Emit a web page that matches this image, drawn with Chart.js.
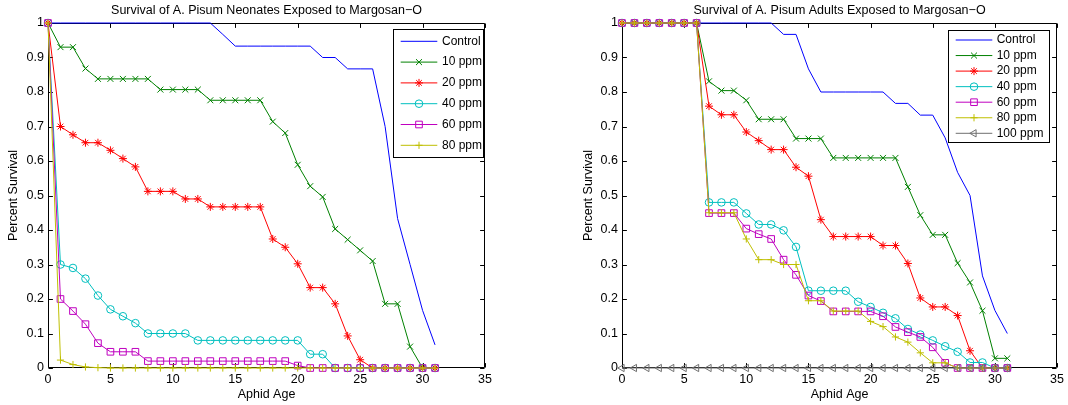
<!DOCTYPE html>
<html><head><meta charset="utf-8">
<script src="https://cdn.jsdelivr.net/npm/chart.js@4.4.0/dist/chart.umd.min.js"></script>
<style>
html,body{margin:0;padding:0;background:#fff;width:1068px;height:405px;overflow:hidden}
canvas{position:absolute;top:0}
#c1{left:0}
#c2{left:534px}
</style></head><body>
<canvas id="c1" width="534" height="405"></canvas>
<canvas id="c2" width="534" height="405"></canvas>
<script>
// ---------- data ----------
const ages = [0,1,2,3,4,5,6,7,8,9,10,11,12,13,14,15,16,17,18,19,20,21,22,23,24,25,26,27,28,29,30,31];

const xTickValues = [0,5,10,15,20,25,30,35];
const xTickLabels = ['0','5','10','15','20','25','30','35'];
const yTickValues = [0,0.1,0.2,0.3,0.4,0.5,0.6,0.7,0.8,0.9,1];
const yTickLabels = ['0','0.1','0.2','0.3','0.4','0.5','0.6','0.7','0.8','0.9','1'];

const titleNeonates = 'Survival of A. Pisum Neonates Exposed to Margosan\u2212O';
const titleAdults = 'Survival of A. Pisum Adults Exposed to Margosan\u2212O';
const xTitle = 'Aphid Age';
const yTitle = 'Percent Survival';

const seriesNames = ['Control','10 ppm','20 ppm','40 ppm','60 ppm','80 ppm','100 ppm'];

// Neonates
const nControl = [1,1,1,1,1,1,1,1,1,1,1,1,1,1,0.967,0.933,0.933,0.933,0.933,0.933,0.933,0.933,0.9,0.9,0.867,0.867,0.867,0.7,0.433,0.3,0.167,0.067];
const n10 = [1,0.93,0.93,0.868,0.838,0.838,0.838,0.838,0.838,0.807,0.807,0.807,0.807,0.776,0.776,0.776,0.776,0.776,0.714,0.681,0.589,0.527,0.496,0.403,0.372,0.341,0.31,0.186,0.186,0.062,0,0];
const n20 = [1,0.70,0.676,0.653,0.653,0.631,0.607,0.583,0.512,0.512,0.512,0.49,0.49,0.467,0.467,0.467,0.467,0.467,0.374,0.35,0.302,0.233,0.233,0.186,0.093,0.024,0,0,0,0,0,0];
const n40 = [1,0.30,0.29,0.259,0.21,0.17,0.15,0.13,0.10,0.10,0.10,0.10,0.08,0.08,0.08,0.08,0.08,0.08,0.08,0.08,0.08,0.04,0.04,0,0,0,0,0,0,0,0,0];
const n60 = [1,0.20,0.165,0.127,0.072,0.047,0.047,0.047,0.02,0.02,0.02,0.02,0.02,0.02,0.02,0.02,0.02,0.02,0.02,0.02,0.007,0,0,0,0,0,0,0,0,0,0,0];
const n80 = [1,0.023,0.01,0.003,0.001,0,0,0,0,0,0,0,0,0,0,0,0,0,0,0,0,0,0,0,0,0,0,0,0,0,0,0];

// Adults
const aControl = [1,1,1,1,1,1,1,1,1,1,1,1,1,0.967,0.967,0.867,0.8,0.8,0.8,0.8,0.8,0.8,0.767,0.767,0.733,0.733,0.667,0.567,0.5,0.267,0.167,0.1];
const a10 = [1,1,1,1,1,1,1,0.831,0.804,0.804,0.776,0.721,0.721,0.721,0.665,0.665,0.665,0.609,0.609,0.609,0.609,0.609,0.609,0.525,0.443,0.386,0.386,0.304,0.248,0.166,0.028,0.028];
const a20 = [1,1,1,1,1,1,1,0.759,0.734,0.734,0.684,0.659,0.633,0.633,0.582,0.556,0.43,0.381,0.381,0.381,0.381,0.355,0.355,0.303,0.203,0.177,0.177,0.152,0.05,0,0,0];
const a40 = [1,1,1,1,1,1,1,0.48,0.48,0.48,0.448,0.416,0.416,0.399,0.351,0.224,0.224,0.224,0.224,0.192,0.177,0.16,0.144,0.113,0.097,0.08,0.063,0.047,0.016,0.016,0,0];
const a60 = [1,1,1,1,1,1,1,0.449,0.449,0.449,0.404,0.388,0.374,0.314,0.27,0.21,0.194,0.164,0.164,0.164,0.164,0.15,0.119,0.104,0.09,0.06,0.015,0,0,0,0,0];
const a80 = [1,1,1,1,1,1,1,0.45,0.45,0.45,0.374,0.314,0.314,0.3,0.3,0.195,0.195,0.165,0.165,0.165,0.135,0.12,0.09,0.075,0.044,0.015,0.015,0,0,0,0,0];
const a100 = [0,0,0,0,0,0,0,0,0,0,0,0,0,0,0,0,0,0,0,0,0,0,0,0,0,0,0,0,0,0,0,0];

// ---------- styles ----------
const FONT = '"Liberation Sans", Arial, Helvetica, sans-serif';
const FSIZE = 12.5;
const LEGEND_FSIZE = 12;
const styles = [
  {color:'#0000FF', pointStyle:false, radius:0, rotation:0},
  {color:'#008000', pointStyle:'crossRot', radius:4.2, rotation:0},
  {color:'#FF0000', pointStyle:'star', radius:4, rotation:0},
  {color:'#00BFBF', pointStyle:'circle', radius:3.8, rotation:0},
  {color:'#BF00BF', pointStyle:'rect', radius:4.7, rotation:0},
  {color:'#BFBF00', pointStyle:'cross', radius:3.6, rotation:0},
  {color:'#707070', pointStyle:'triangle', radius:4.2, rotation:-90}
];

Chart.defaults.color = '#000';
Chart.defaults.font.family = FONT;
Chart.defaults.font.size = FSIZE;

function makeDatasets(seriesList){
  const N = seriesList.length;
  return seriesList.map((vals, i) => {
    const s = styles[i];
    return {
      label: seriesNames[i],
      data: ages.map((a, k) => ({x: a, y: vals[k]})),
      borderColor: s.color,
      borderWidth: 1,
      pointStyle: s.pointStyle || 'circle',
      pointRadius: s.radius,
      pointHoverRadius: s.radius,
      pointRotation: s.rotation,
      pointBorderColor: s.color,
      pointBackgroundColor: 'rgba(0,0,0,0)',
      pointBorderWidth: 1,
      tension: 0,
      fill: false,
      clip: false,
      order: N - i
    };
  });
}

const framePlugin = {
  id: 'frame',
  beforeDatasetsDraw(chart){
    const {ctx, chartArea: a, scales: {x, y}} = chart;
    ctx.save();
    ctx.strokeStyle = '#000';
    ctx.lineWidth = 1;
    const L = Math.round(a.left) + 0.5, R = Math.round(a.right) - 0.5;
    const T = Math.round(a.top) + 0.5, B = Math.round(a.bottom) - 0.5;
    ctx.beginPath();
    ctx.rect(L, T, R - L, B - T);
    const tl = 4.4;
    xTickValues.forEach(v => {
      const p = Math.round(x.getPixelForValue(v)) + 0.5;
      ctx.moveTo(p, B); ctx.lineTo(p, B - tl);
      ctx.moveTo(p, T); ctx.lineTo(p, T + tl);
    });
    yTickValues.forEach(v => {
      const p = Math.round(y.getPixelForValue(v)) + 0.5;
      ctx.moveTo(L, p); ctx.lineTo(L + tl, p);
      ctx.moveTo(R, p); ctx.lineTo(R - tl, p);
    });
    ctx.stroke();
    // title
    const t = chart.options.plugins.frame.title;
    ctx.fillStyle = '#000';
    ctx.font = FSIZE + 'px ' + FONT;
    ctx.textAlign = 'center';
    ctx.textBaseline = 'middle';
    ctx.fillText(t, (a.left + a.right) / 2, 10.5);
    ctx.restore();
  },
  afterDraw(chart){
    const {ctx} = chart;
    const lg = chart.options.plugins.frame.legend;
    const n = chart.data.datasets.length;
    ctx.save();
    ctx.fillStyle = '#fff';
    ctx.fillRect(lg.x, lg.y, lg.w, lg.h);
    ctx.font = LEGEND_FSIZE + 'px ' + FONT;
    ctx.textBaseline = 'middle';
    ctx.textAlign = 'left';
    for (let i = 0; i < n; i++) {
      const s = styles[i];
      const yy = lg.row0 + i * lg.rowStep;
      ctx.strokeStyle = s.color;
      ctx.lineWidth = 1;
      ctx.beginPath();
      ctx.moveTo(lg.lineX1, yy);
      ctx.lineTo(lg.lineX2, yy);
      ctx.stroke();
      if (s.pointStyle) {
        ctx.strokeStyle = s.color;
        ctx.fillStyle = 'rgba(0,0,0,0)';
        Chart.helpers.drawPoint(ctx, {pointStyle: s.pointStyle, rotation: s.rotation, radius: s.radius, borderWidth: 1}, (lg.lineX1 + lg.lineX2) / 2, yy);
      }
      ctx.fillStyle = '#000';
      ctx.fillText(chart.data.datasets[i].label, lg.textX, yy);
    }
    ctx.strokeStyle = '#000';
    ctx.lineWidth = 1;
    ctx.strokeRect(Math.round(lg.x) + 0.5, Math.round(lg.y) + 0.5, Math.round(lg.w), Math.round(lg.h));
    ctx.restore();
  }
};

function makeChart(id, seriesList, title, layout){
  return new Chart(document.getElementById(id), {
    type: 'line',
    data: {datasets: makeDatasets(seriesList)},
    options: {
      responsive: false,
      animation: false,
      devicePixelRatio: 1,
      events: [],
      layout: {padding: {left: 0, right: layout.padRight, top: 23, bottom: 0}},
      plugins: {
        legend: {display: false},
        tooltip: {enabled: false},
        title: {display: false},
        frame: {title: title, legend: layout.legend}
      },
      scales: {
        x: {
          type: 'linear', min: 0, max: 35,
          afterBuildTicks: sc => { sc.ticks = xTickValues.map(v => ({value: v})); },
          afterFit: sc => { sc.height = 37; },
          ticks: {
            callback: (v) => { const k = xTickValues.indexOf(v); return k >= 0 ? xTickLabels[k] : ''; },
            padding: 4, maxRotation: 0, autoSkip: false, color: '#000', font: {size: FSIZE, family: FONT}
          },
          grid: {display: false, drawTicks: false},
          border: {display: false},
          title: {display: true, text: xTitle, color: '#000', font: {size: FSIZE, family: FONT}, padding: {top: 0, bottom: 2.5}}
        },
        y: {
          type: 'linear', min: 0, max: 1,
          afterBuildTicks: sc => { sc.ticks = yTickValues.map(v => ({value: v})); },
          afterFit: sc => { sc.width = layout.yWidth; },
          ticks: {
            callback: (v) => { const k = yTickValues.findIndex(t => Math.abs(t - v) < 1e-9); return k >= 0 ? yTickLabels[k] : ''; },
            padding: 4, autoSkip: false, color: '#000', font: {size: FSIZE, family: FONT}
          },
          grid: {display: false, drawTicks: false},
          border: {display: false},
          title: {display: true, text: yTitle, color: '#000', font: {size: FSIZE, family: FONT}, padding: {top: layout.yTitlePad, bottom: 0}}
        }
      }
    },
    plugins: [framePlugin]
  });
}

makeChart('c1', [nControl, n10, n20, n40, n60, n80], titleNeonates, {
  padRight: 49, yWidth: 48, yTitlePad: 6,
  legend: {x: 393, y: 29, w: 90, h: 128, row0: 41.3, rowStep: 20.8, lineX1: 400.7, lineX2: 437.3, textX: 442}
});
makeChart('c2', [aControl, a10, a20, a40, a60, a80, a100], titleAdults, {
  padRight: 9, yWidth: 88, yTitlePad: 47,
  legend: {x: 414, y: 30, w: 101, h: 112, row0: 40, rowStep: 15.55, lineX1: 421.7, lineX2: 458.3, textX: 462.7}
});
</script>
</body></html>
